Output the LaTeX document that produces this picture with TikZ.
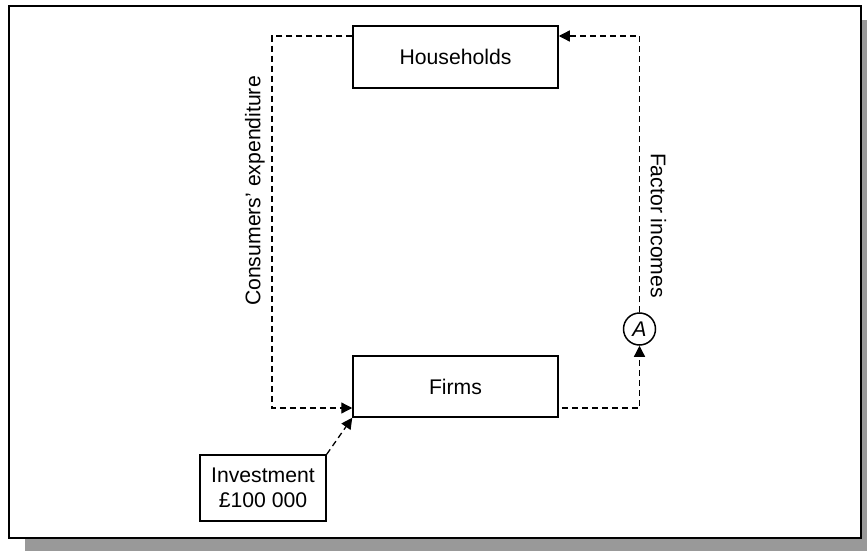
\documentclass[tikz,border=0pt]{standalone}
\usepackage{fontspec}
\setmainfont{Liberation Sans}
\usetikzlibrary{arrows.meta}
\begin{document}
\begin{tikzpicture}[x=0.5pt, y=-0.5pt, font=\fontsize{10.6}{12.5}\selectfont,
    box/.style={draw, line width=0.75pt, fill=white, inner sep=0pt, align=center},
    flow/.style={line width=0.65pt, dash pattern=on 3pt off 2pt, -{Triangle[length=5.5pt, width=5.5pt]}}]
    \useasboundingbox (0,0) rectangle (867,551);
    \fill[black!40] (25,20) rectangle (867,551);
    \draw[line width=1pt, fill=white] (9,6) rectangle (861,538);
    \node[box, minimum width=102.5pt, minimum height=31pt] (hh) at (455.5,57) {Households};
    \node[box, minimum width=102.5pt, minimum height=30.5pt] (fi) at (455.5,386.5) {Firms};
    \node[box, minimum width=63pt, minimum height=33pt] (inv) at (263,488) {Investment\\\pounds100 000};
    \node[circle, draw, line width=0.75pt, fill=white, minimum size=16pt, inner sep=0pt] (a) at (639.5,329) {\textit{A}};
    \coordinate (lt) at (272,36);
    \coordinate (lb) at (272,408);
    \coordinate (rb) at (639.5,408);
    \coordinate (rt) at (639.5,36);
    \draw[flow] (hh.west |- lt) -- (lt) -- (lb) -- (fi.west |- lb);
    \draw[flow, shorten <=1.5pt] (fi.east |- rb) -- (rb) -- (a.south);
    \draw[flow] (a.north) -- (rt) -- (hh.east |- rt);
    \draw[flow] (inv.north east) -- (fi.south west);
    \node[rotate=90] (ce) at (255,191) {Consumers’ expenditure};
    \node[rotate=-90] (fa) at (658.5,225.5) {Factor incomes};
\end{tikzpicture}
\end{document}
